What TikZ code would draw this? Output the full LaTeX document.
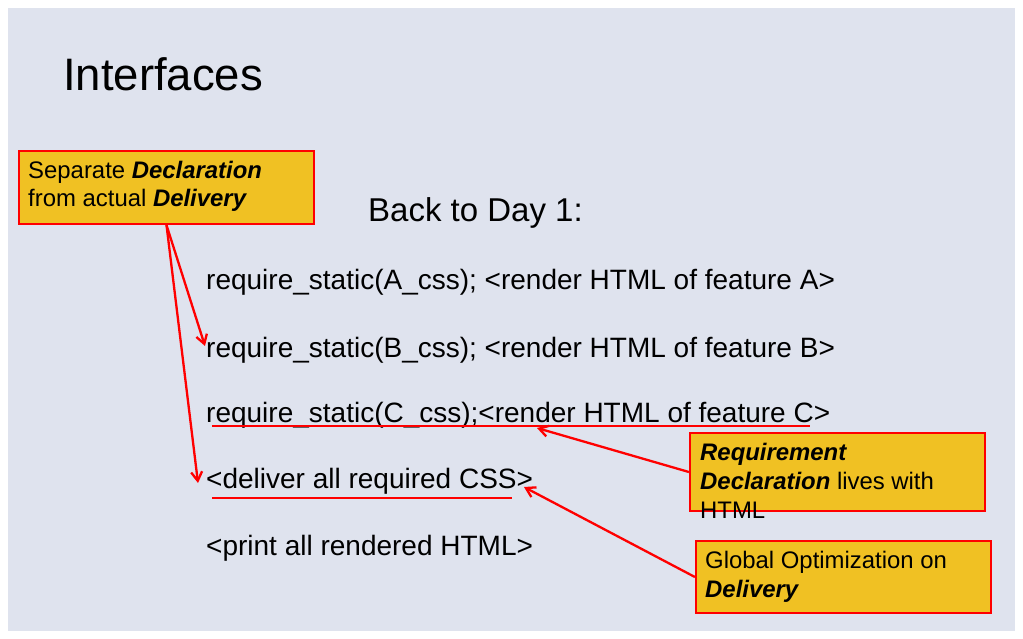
\documentclass[tikz,border=0pt]{standalone}
\usepackage{fontspec}
\setmainfont{Liberation Sans}
\usetikzlibrary{arrows.meta}
\definecolor{slidebg}{RGB}{223,227,238}
\definecolor{calloutfill}{RGB}{240,193,35}
\definecolor{linered}{RGB}{255,0,0}
\tikzset{
  callout/.style={draw=linered, line width=2.2pt, fill=calloutfill, rectangle, inner sep=0pt},
  body/.style={anchor=base west, inner sep=0pt, font=\fontsize{28}{34}\selectfont, text=black},
  ctext/.style={anchor=base west, inner sep=0pt, font=\fontsize{23.9}{28}\selectfont, text=black},
  redline/.style={draw=linered, line width=2.3pt},
  redarrow/.style={draw=linered, line width=2.3pt, -{Straight Barb[length=9pt,width=11pt,line width=2.3pt]}}
}
\begin{document}
\begin{tikzpicture}[x=1pt,y=-1pt]
\useasboundingbox (0,0) rectangle (1023,639);
\fill[white] (0,0) rectangle (1023,639);
\fill[slidebg] (8,8) rectangle (1015,631);

\node[anchor=base west, inner sep=0pt, font=\fontsize{45.5}{52}\selectfont] (title) at (63,91) {Interfaces};
\node[anchor=base west, inner sep=0pt, font=\fontsize{33}{40}\selectfont] (back) at (368,222) {Back to Day 1:};

\node[body] (la) at (206,290) {require\_static(A\_css); <render HTML of feature A>};
\node[body] (lb) at (206,357) {require\_static(B\_css); <render HTML of feature B>};
\node[body] (lc) at (206,422) {require\_static(C\_css);<render HTML of feature C>};
\node[body] (ld) at (206,488) {<deliver all required CSS>};
\node[body] (le) at (206,555) {<print all rendered HTML>};

% callout boxes
\node[callout, minimum width=295pt, minimum height=73pt] (c1) at (166.5,187.5) {};
\node[callout, minimum width=295pt, minimum height=78pt] (c2) at (837.5,472) {};
\node[callout, minimum width=295pt, minimum height=72pt] (c3) at (843.5,577) {};

\node[ctext] (c1a) at (28,179) {Separate \textbf{\textit{Declaration}}};
\node[ctext] (c1b) at (28,207) {from actual \textbf{\textit{Delivery}}};
\node[ctext] (c2a) at (700,460) {\textbf{\textit{Requirement}}};
\node[ctext] (c2b) at (700,489) {\textbf{\textit{Declaration}} lives with};
\node[ctext] (c2c) at (700,518) {HTML};
\node[ctext] (c3a) at (705,568) {Global Optimization on};
\node[ctext] (c3b) at (705,597) {\textbf{\textit{Delivery}}};

% underlines
\coordinate (ucs) at (212,426);
\coordinate (uce) at (810,426);
\coordinate (uds) at (212,498);
\coordinate (ude) at (512,498);
\draw[redline] (ucs) -- (uce);
\draw[redline] (uds) -- (ude);

% arrow tips
\coordinate (tb) at (205,346);
\coordinate (td) at (198,483);
\coordinate (tc) at (537,428);
\coordinate (tdd) at (524,487);

\draw[redarrow] (c1.south) -- (tb);
\draw[redarrow] (c1.south) -- (td);
\draw[redarrow] (c2.west) -- (tc);
\draw[redarrow] (c3.west) -- (tdd);
\end{tikzpicture}
\end{document}
